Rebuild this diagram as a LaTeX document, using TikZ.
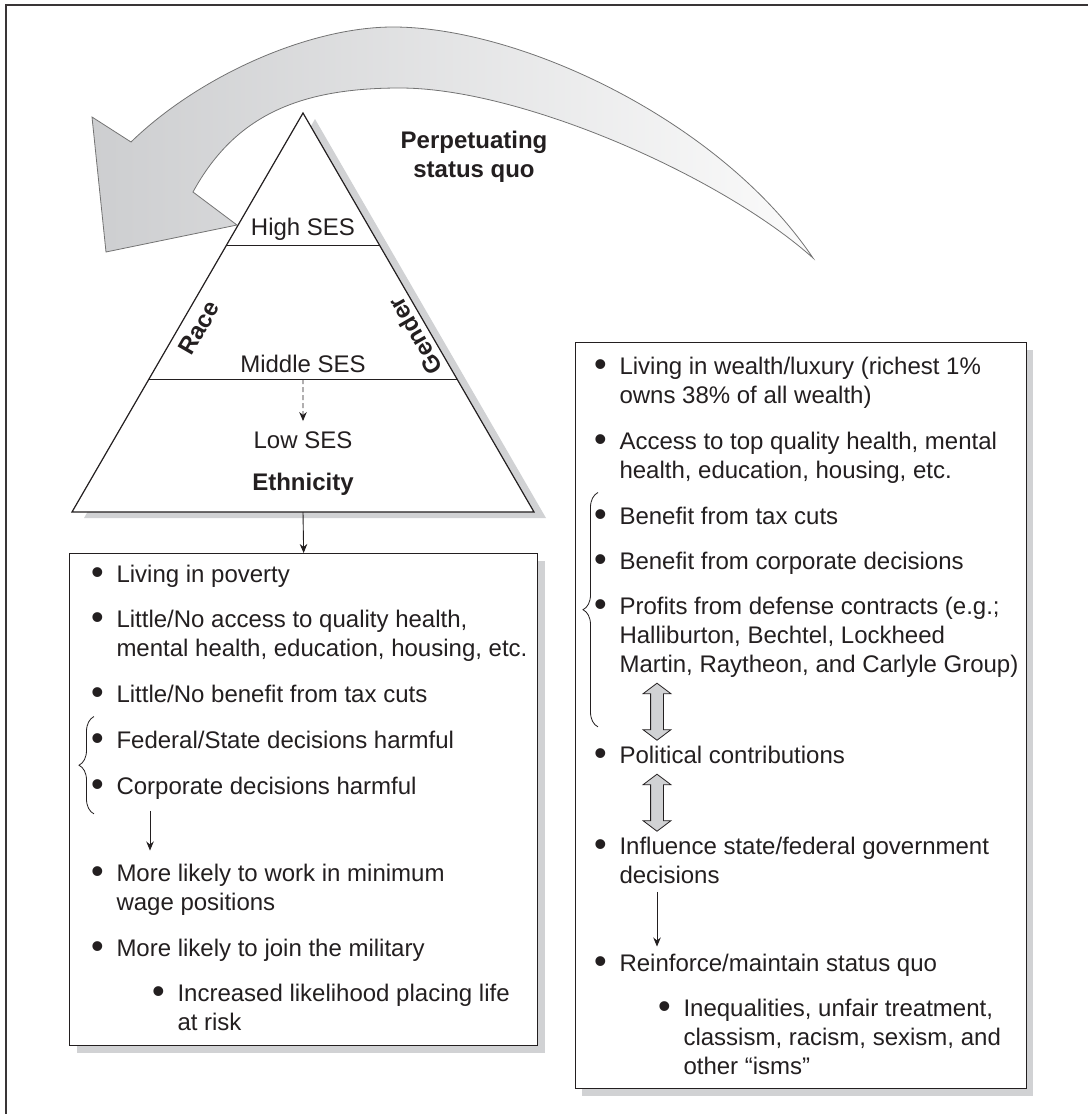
\documentclass[tikz,border=0pt]{standalone}
\usepackage{fontspec}
\setmainfont{Liberation Sans}
\usetikzlibrary{arrows, arrows.meta}
\usetikzlibrary{calc}
\usetikzlibrary{shadows}
\usetikzlibrary{shapes.arrows}
\usetikzlibrary{decorations.pathreplacing}

\definecolor{ink}{RGB}{35,31,32}
\definecolor{shadowgray}{RGB}{209,210,212}
\definecolor{rim}{RGB}{115,115,115}

\newcommand{\bulitem}[1]{\begin{tabular}[t]{@{}l@{\hspace{12.7pt}}l@{}}\raisebox{-2.2pt}{\scalebox{1.5}{\textbullet}} & #1\end{tabular}}

\tikzset{
    txt/.style={font=\fontsize{24}{29}\selectfont, text=ink, inner sep=0pt},
    bold/.style={font=\fontsize{24}{29}\selectfont\bfseries, text=ink, inner sep=0pt},
    item/.style={txt, anchor=base west},
    tri/.style={draw=ink, line width=1.2pt},
    box/.style={draw=ink, line width=1.3pt, fill=white, anchor=north west, inner sep=0pt},
    ptr/.style={draw=ink, line width=0.9pt, -{Stealth[length=9pt, width=7.5pt]}},
    fat/.style={double arrow, draw=ink, line width=0.8pt, fill=shadowgray, inner sep=6pt, minimum height=57pt, double arrow head extend=7.5pt, double arrow tip angle=106, rotate=90},
    curly/.style={draw=ink, line width=0.8pt, decorate, decoration={brace, amplitude=15pt}}
}

\begin{document}
\begin{tikzpicture}[x=1pt, y=-1pt]
    \useasboundingbox (0,0) rectangle (1088,1114);
    \draw[ink!90, line width=1.6pt] (6,1114) -- (6,5) -- (1088,5);

    \draw[draw=rim, line width=0.8pt, left color={rgb,255:red,205;green,206;blue,208}, right color={rgb,255:red,251;green,251;blue,251}]
        (131,142) .. controls (200,75) and (310,27) .. (393,27)
        .. controls (520,27) and (720,120) .. (813,258)
        .. controls (720,175) and (520,88) .. (400,88)
        .. controls (300,88) and (235,115) .. (193,192)
        -- (237,225) -- (106,252) -- (92,117) -- cycle;

    \coordinate (apex) at (303,113);
    \coordinate (bl) at (72,512);
    \coordinate (br) at (534,512);
    \coordinate (hl) at ($(apex)!0.333!(bl)$);
    \coordinate (hr) at ($(apex)!0.333!(br)$);
    \coordinate (ml) at ($(apex)!0.667!(bl)$);
    \coordinate (mr) at ($(apex)!0.667!(br)$);
    \coordinate (bm) at ($(bl)!0.5!(br)$);

    \fill[shadowgray] ($(apex)+(12,6)$) -- ($(bl)+(12,6)$) -- ($(br)+(12,6)$) -- cycle;
    \draw[tri, fill=white] (apex) -- (bl) -- (br) -- cycle;
    \draw[tri] (hl) -- (hr);
    \draw[tri] (ml) -- (mr);

    \node[bold, anchor=base] (perp) at (474,148) {\begin{tabular}[t]{@{}c@{}}Perpetuating\\status quo\end{tabular}};
    \node[txt, anchor=base] (high) at (303,235) {High SES};
    \node[txt, anchor=base] (middle) at (303,372) {Middle SES};
    \node[txt, anchor=base] (low) at (303,448) {Low SES};
    \node[bold, anchor=base] (ethnicity) at (303,490) {Ethnicity};
    \node[bold, rotate=60] (race) at (199,328) {Race};
    \node[bold, rotate=120] (gender) at (415,336) {Gender};

    \node[box, minimum width=468pt, minimum height=492pt, drop shadow={shadow xshift=7pt, shadow yshift=-7pt, fill=shadowgray, opacity=1}] (poor) at (69,553) {};
    \node[box, minimum width=451pt, minimum height=746pt, drop shadow={shadow xshift=6pt, shadow yshift=-7pt, fill=shadowgray, opacity=1}] (rich) at (575,342) {};

    \node[item] (poverty) at (91,582) {\bulitem{Living in poverty}};
    \node[item] (noaccess) at (91,627) {\bulitem{Little/No access to quality health,\\ & mental health, education, housing, etc.}};
    \node[item] (notax) at (91,702) {\bulitem{Little/No benefit from tax cuts}};
    \node[item] (fed) at (91,748) {\bulitem{Federal/State decisions harmful}};
    \node[item] (corp) at (91,794) {\bulitem{Corporate decisions harmful}};
    \node[item] (wage) at (91,881) {\bulitem{More likely to work in minimum\\ & wage positions}};
    \node[item] (military) at (91,956) {\bulitem{More likely to join the military}};
    \node[item] (risk) at (152,1001) {\bulitem{Increased likelihood placing life\\ & at risk}};

    \node[item] (wealth) at (594,374) {\bulitem{Living in wealth/luxury (richest 1\%\\ & owns 38\% of all wealth)}};
    \node[item] (access) at (594,449) {\bulitem{Access to top quality health, mental\\ & health, education, housing, etc.}};
    \node[item] (taxcut) at (594,524) {\bulitem{Benefit from tax cuts}};
    \node[item] (corpgain) at (594,569) {\bulitem{Benefit from corporate decisions}};
    \node[item] (defense) at (594,614) {\bulitem{Profits from defense contracts (e.g.;\\ & Halliburton, Bechtel, Lockheed\\ & Martin, Raytheon, and Carlyle Group)}};
    \node[item] (donate) at (594,763) {\bulitem{Political contributions}};
    \node[item] (influence) at (594,854) {\bulitem{Influence state/federal government\\ & decisions}};
    \node[item] (reinforce) at (594,971) {\bulitem{Reinforce/maintain status quo}};
    \node[item] (isms) at (658,1016) {\bulitem{Inequalities, unfair treatment,\\ & classism, racism, sexism, and\\ & other “isms”}};

    \draw[ptr, dash pattern=on 5pt off 3pt] ($(ml)!0.5!(mr)$) -- ([yshift=10pt]low.north);
    \draw[ptr] (bm) -- (poor.north);
    \draw[curly] ([xshift=3pt, yshift=-11pt]corp.south west) -- ([xshift=3pt, yshift=11pt]fed.north west);
    \draw[ptr] ([xshift=59pt, yshift=-8pt]corp.south west) -- ([xshift=59pt, yshift=10pt]wage.north west);
    \draw[curly] ([xshift=4pt, yshift=-46pt]defense.south west) -- ([xshift=4pt, yshift=11pt]taxcut.north west);
    \node[fat] (swap1) at ($(defense.south west)!0.5!(donate.north west) + (63,0)$) {};
    \node[fat] (swap2) at ($(donate.south west)!0.5!(influence.north west) + (63,0)$) {};
    \draw[ptr] ([xshift=63pt]influence.south west) -- ([xshift=63pt, yshift=4pt]reinforce.north west);
\end{tikzpicture}
\end{document}
